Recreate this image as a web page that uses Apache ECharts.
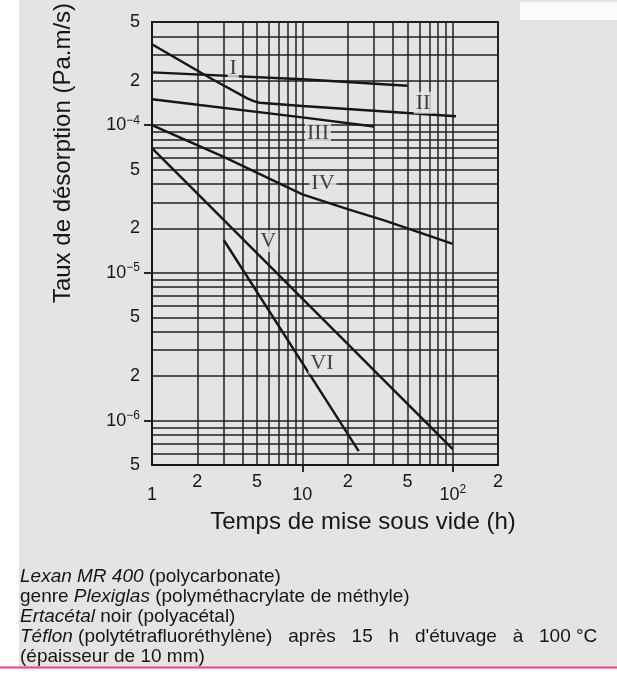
<!DOCTYPE html>
<html>
<head>
<meta charset="utf-8">
<script src="https://cdn.jsdelivr.net/npm/echarts@6/dist/echarts.min.js"></script>
<style>
  html, body { margin: 0; padding: 0; background: #fff; }
  #chart { width: 617px; height: 677px; }
</style>
</head>
<body>
<div id="chart"></div>
<script>
// temps de mise sous vide (h) / taux de désorption (Pa.m/s)
const tI = [1, 10, 50];
const rI = [2.28e-4, 2.05e-4, 1.85e-4];
const tII = [1, 2.45, 4.3, 4.8, 5.2, 10, 105];
const rII = [3.53e-4, 2.08e-4, 1.52e-4, 1.45e-4, 1.42e-4, 1.35e-4, 1.15e-4];
const tIII = [1, 10, 30];
const rIII = [1.5e-4, 1.13e-4, 9.8e-5];
const tIV = [1, 3, 10, 20, 35, 100];
const rIV = [1e-4, 6.1e-5, 3.4e-5, 2.7e-5, 2.27e-5, 1.57e-5];
const tV = [1, 100];
const rV = [7e-5, 6.4e-7];
const tVI = [3, 23.7];
const rVI = [1.67e-5, 6.2e-7];

// repères I..VI
const markNames = ['I', 'II', 'III', 'IV', 'V', 'VI'];
const markT = [3.47, 63.5, 12.7, 13.7, 5.93, 13.5];
const markR = [2.44e-4, 1.42e-4, 8.85e-5, 4.06e-5, 1.64e-5, 2.44e-6];

// axes
const xMin = 1, xMax = 200;
const yMin = 5e-7, yMax = 5e-4;
const xGrid = [1, 2, 3, 4, 5, 6, 7, 8, 9, 10, 20, 30, 40, 50, 60, 70, 80, 90, 100, 200];
const xLabelsHigh = [2, 5, 20, 50, 200];
const xLabelsLow = [1, 10, 100];
const yLabels = [5e-7, 1e-6, 2e-6, 5e-6, 1e-5, 2e-5, 5e-5, 1e-4, 2e-4, 5e-4];
const yDecades = [1e-6, 1e-5, 1e-4];

const lg = Math.log10;
const ink = '#161616';
const paper = '#e4e4e4';
const sans = '"Liberation Sans", Arial';

// lignes horizontales 1..9 par décade
const yGrid = [];
[-7, -6, -5, -4].forEach(e => {
  for (let m = 1; m <= 9; m++) {
    const v = m * Math.pow(10, e);
    if (v >= yMin * 0.999 && v <= yMax * 1.001) yGrid.push(v);
  }
});

const toPts = (t, r) => t.map((x, i) => [lg(x), lg(r[i])]);
const curves = [[tI, rI], [tII, rII], [tIII, rIII], [tIV, rIV], [tV, rV], [tVI, rVI]];

const supRich = {
  b: { fontSize: 18, color: ink, lineHeight: 22, fontFamily: sans },
  s: { fontSize: 12, color: ink, verticalAlign: 'top', lineHeight: 22, fontFamily: sans },
  n: { fontSize: 18, color: ink, lineHeight: 22, fontFamily: sans }
};

function yFmt(val) {
  const e = Math.floor(val + 1e-6);
  const m = Math.round(Math.pow(10, val - e));
  if (m === 1) return '{b|10}{s|\u2212' + (-e) + '}';
  return '{n|' + m + '}';
}
function xFmt(val) {
  const v = Math.round(Math.pow(10, val));
  if (v === 100) return '{b|10}{s|2}';
  const e = Math.floor(val + 1e-6);
  if (v === 1 || v === 10) return '{n|' + v + '}';
  return '{n|' + Math.round(v / Math.pow(10, e)) + '}';
}

const chart = echarts.init(document.getElementById('chart'));

const lineSeries = curves.map((c, i) => ({
  name: markNames[i],
  type: 'line',
  data: toPts(c[0], c[1]),
  showSymbol: false,
  symbol: 'none',
  lineStyle: { color: ink, width: 2.4 },
  z: 5,
  silent: true
}));

const option = {
  backgroundColor: paper,
  animation: false,
  grid: { left: 152, right: 119, top: 22, bottom: 212, show: true, borderColor: ink, borderWidth: 1.8 },
  xAxis: [
    {
      type: 'value', min: lg(xMin), max: lg(xMax),
      axisLine: { show: true, lineStyle: { color: ink, width: 1.8 } },
      axisTick: { show: false, customValues: xGrid.map(lg) },
      splitLine: { show: true, lineStyle: { color: '#202020', width: 1.5 } },
      axisLabel: { customValues: xLabelsHigh.map(lg), formatter: xFmt, rich: supRich, margin: 6 }
    },
    {
      type: 'value', min: lg(xMin), max: lg(xMax), position: 'bottom',
      axisLine: { show: false },
      axisTick: { show: true, customValues: [10, 100].map(lg), length: 7, lineStyle: { color: ink, width: 1.8 } },
      splitLine: { show: false },
      axisLabel: { customValues: xLabelsLow.map(lg), formatter: xFmt, rich: supRich, margin: 19 }
    }
  ],
  yAxis: [
    {
      type: 'value', min: lg(yMin), max: lg(yMax), position: 'left',
      axisLine: { show: true, lineStyle: { color: ink, width: 1.8 } },
      axisTick: { show: false, customValues: yGrid.map(lg) },
      splitLine: { show: true, lineStyle: { color: '#202020', width: 1.5 } },
      axisLabel: { customValues: yLabels.map(lg), formatter: yFmt, rich: supRich, margin: 12 }
    },
    {
      type: 'value', min: lg(yMin), max: lg(yMax), position: 'left',
      axisLine: { show: false },
      axisTick: { show: true, customValues: yDecades.map(lg), length: 8, lineStyle: { color: ink, width: 1.8 } },
      splitLine: { show: false },
      axisLabel: { show: false }
    }
  ],
  series: lineSeries.concat([{
    type: 'scatter',
    data: markNames.map((n, i) => ({ name: n, value: [lg(markT[i]), lg(markR[i])] })),
    symbolSize: 1,
    itemStyle: { color: 'rgba(0,0,0,0)' },
    z: 6,
    silent: true,
    label: {
      show: true, position: 'inside', formatter: '{b}',
      fontFamily: '"Liberation Serif", "DejaVu Serif", serif', fontSize: 22, color: ink,
      backgroundColor: paper, padding: [0, 2]
    }
  }]),
  graphic: [
    { type: 'rect', shape: { x: 0, y: 0, width: 19, height: 667 }, style: { fill: '#fff' } },
    { type: 'rect', shape: { x: 0, y: 668, width: 617, height: 9 }, style: { fill: '#fff' } },
    { type: 'rect', shape: { x: 520, y: 2, width: 97, height: 18 }, style: { fill: '#fbfbfb' } },
    { type: 'line', shape: { x1: 0, y1: 667.5, x2: 617, y2: 667.5 }, style: { stroke: '#f5398c', lineWidth: 2 } },
    {
      type: 'text', x: 63, y: 153, rotation: Math.PI / 2,
      style: { text: 'Taux de désorption (Pa.m/s)', fill: ink, font: '24px ' + sans, align: 'center', verticalAlign: 'middle' }
    },
    {
      type: 'text', x: 363, y: 522,
      style: { text: 'Temps de mise sous vide (h)', fill: ink, font: '24px ' + sans, align: 'center', verticalAlign: 'middle' }
    },
    {
      type: 'text', x: 20, y: 567,
      style: {
        text: '{i|Lexan MR 400} {r|(polycarbonate)}\n'
          + '{r|genre} {i|Plexiglas} {r|(polyméthacrylate de méthyle)}\n'
          + '{i|Ertacétal} {r|noir (polyacétal)}\n'
          + '{i|Téflon} {r|(polytétrafluoréthylène)   après   15   h   d\'étuvage   à   100 °C}\n'
          + '{r|(épaisseur de 10 mm)}',
        fill: ink,
        font: '19px ' + sans,
        lineHeight: 20,
        rich: {
          i: { font: 'italic 19px ' + sans, fill: ink, lineHeight: 20 },
          r: { font: '19px ' + sans, fill: ink, lineHeight: 20 }
        }
      }
    }
  ]
};

chart.setOption(option);
</script>
</body>
</html>
